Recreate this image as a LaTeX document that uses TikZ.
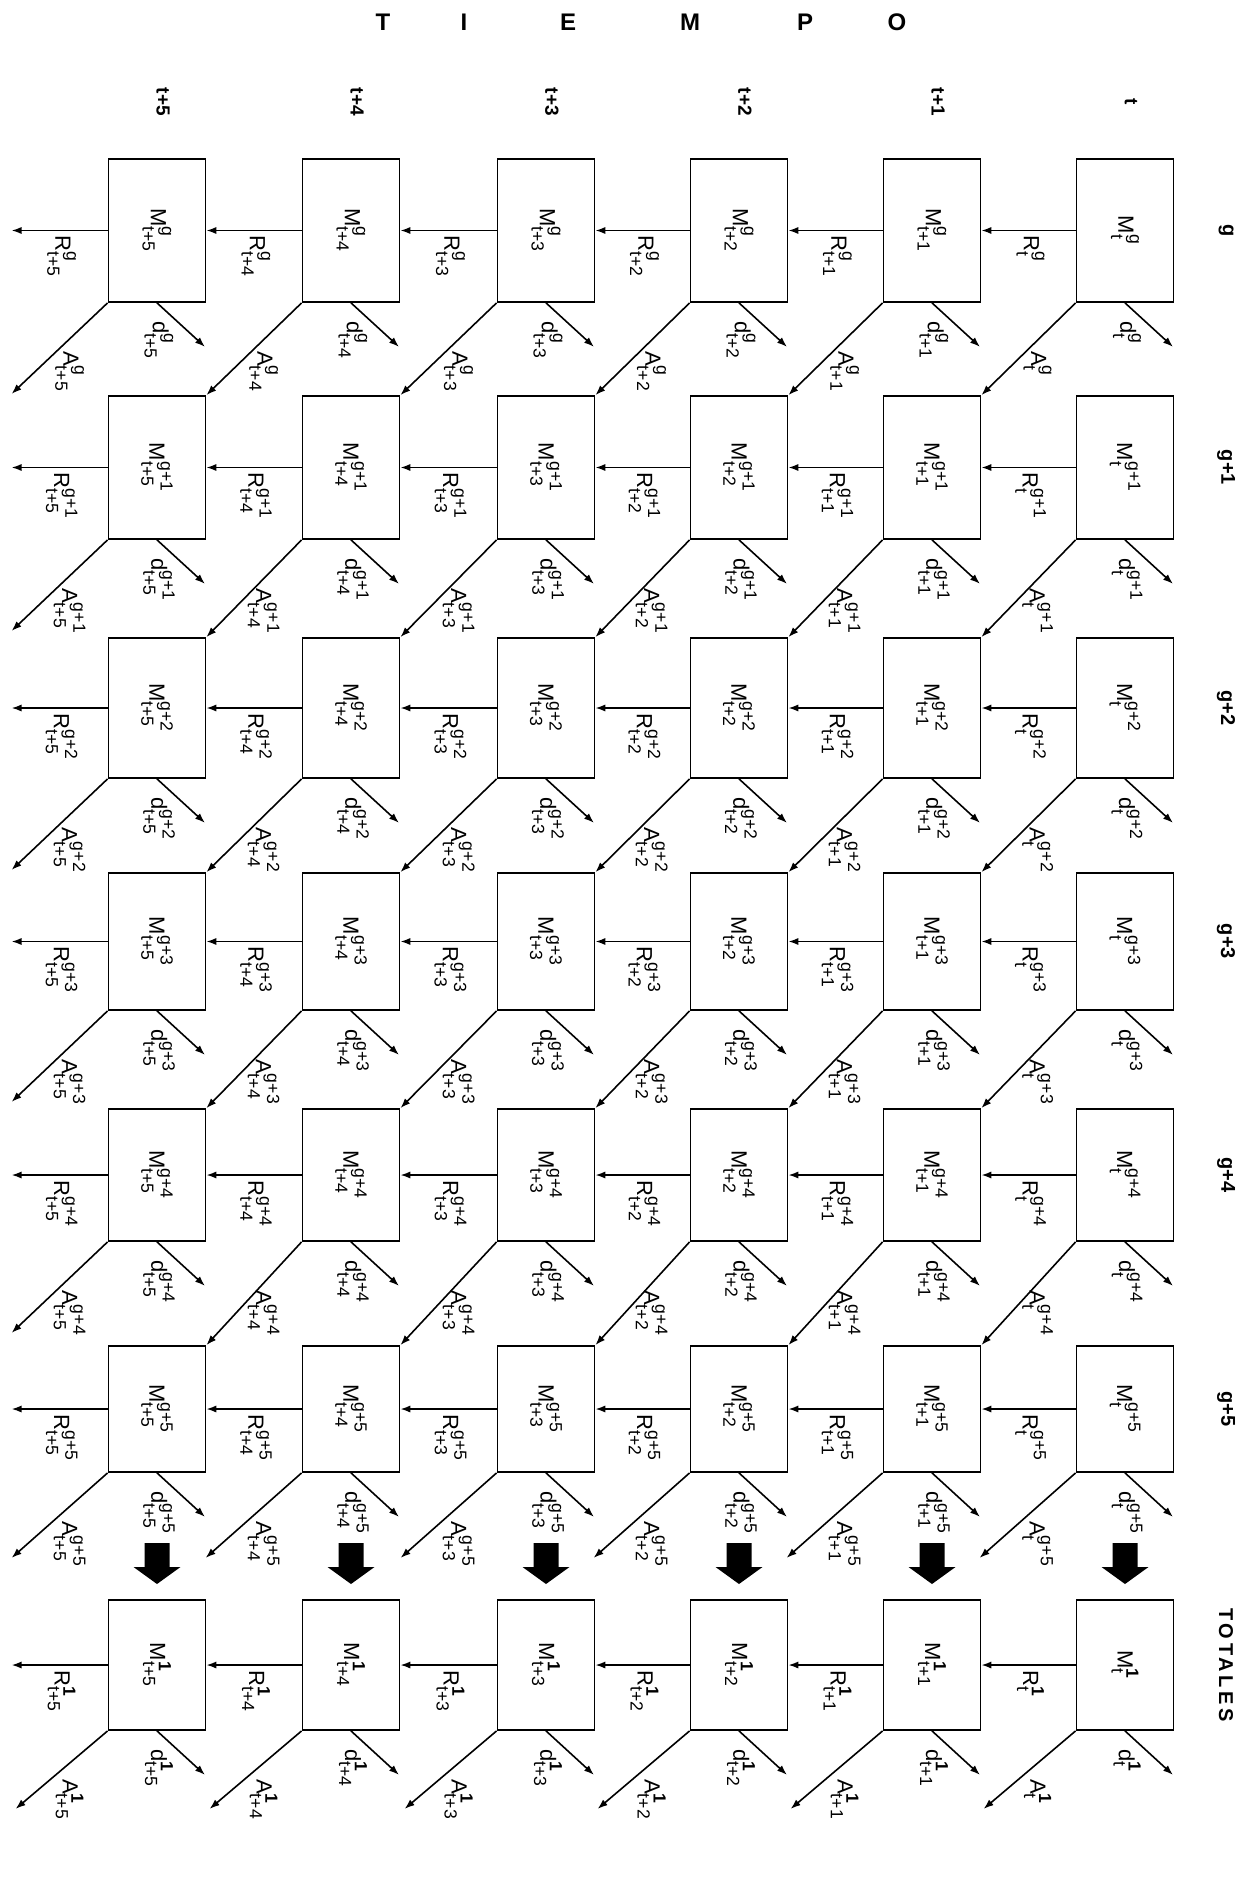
\documentclass[tikz,border=0pt]{standalone}
\usepackage{amsmath}
\usepackage{graphicx}
\usepackage{fontspec}
\setmainfont{Liberation Sans}
\usetikzlibrary{arrows.meta,calc}
\newcommand{\sct}[1]{\text{\fontsize{8.8}{10}\selectfont #1}}
\newcommand{\lab}[3]{{\fontsize{11}{13}\selectfont$\text{#1}^{\sct{#2}}_{\sct{#3}}$}}
\newcommand{\supof}[1]{\ifcase#1 g\or g+1\or g+2\or g+3\or g+4\or g+5\or \textbf{1}\fi}
\newcommand{\subof}[1]{\ifnum#1=0 t\else t+#1\fi}
\tikzset{
  boxn/.style={draw, line width=0.9pt, inner sep=0pt, minimum width=48.5pt},
  arr/.style={line width=0.8pt, -{Latex[length=5pt,width=3.6pt]}},
  rl/.style={rotate=-90, anchor=west, inner sep=1pt},
  hdr/.style={font=\bfseries\fontsize{9.5}{11}\selectfont, rotate=-90, inner sep=0pt},
  tit/.style={font=\bfseries\fontsize{12}{13}\selectfont, inner sep=0pt},
  bigarrow/.style={fill=black}
}
\begin{document}
\begin{tikzpicture}[x=0.5pt,y=-0.5pt]
\useasboundingbox (0,0) rectangle (1244,1877);
\def\xs{{1125,932,739,546,351,157}}
\def\ys{{230.5,467.5,708,941.5,1175,1409,1665}}
\def\hs{{143,143,140,137,132,126,130}}
% title
\foreach \l/\x in {T/383,I/464,E/568,M/690,P/805,O/897}
  \node[tit] (tm-\l) at (\x,22) {\l};
% column labels
\foreach \c/\t in {0/t,1/t+1,2/t+2,3/t+3,4/t+4,5/t+5}{
  \pgfmathsetmacro\cx{\xs[\c]}
  \node[hdr] (col-\c) at (\cx+6,102) {\t};
}
% row labels
\foreach \r/\t in {0/g,1/g+1,2/g+2,3/g+3,4/g+4,5/g+5}{
  \pgfmathsetmacro\cy{\ys[\r]}
  \node[hdr, font=\bfseries\fontsize{10}{12}\selectfont] (row-\r) at (1226,\cy) {\t};
}
\pgfmathsetmacro\cy{\ys[6]}
\node[hdr, font=\bfseries\fontsize{10}{12}\selectfont\addfontfeature{LetterSpace=18}] (row-6) at (1226,\cy) {TOTALES};
% boxes
\foreach \c in {0,...,5}{
  \foreach \r in {0,...,6}{
    \pgfmathsetmacro\cx{\xs[\c]}
    \pgfmathsetmacro\cy{\ys[\r]}
    \pgfmathsetmacro\hh{\hs[\r]/2}
    \node[boxn, minimum height=\hh pt] (b-\c-\r) at (\cx,\cy)
      {\rotatebox{-90}{\lab{M}{\supof{\r}}{\subof{\c}}}};
  }
}
% connectors
\foreach \c in {0,...,5}{
  \foreach \r in {0,...,6}{
    \pgfmathtruncatemacro\cc{\c+1}
    \pgfmathtruncatemacro\rr{\r+1}
    % R flow
    \ifnum\c<5
      \edef\rt{b-\cc-\r.east}
    \else
      \coordinate (re-\r) at ($(b-\c-\r.west)+(-96,0)$);
      \edef\rt{re-\r}
    \fi
    \draw[arr] (b-\c-\r.west) -- (\rt);
    \node[rl] (rlab-\c-\r) at ($(b-\c-\r.west)!0.5!(\rt)+(2,3)$) {\lab{R}{\supof{\r}}{\subof{\c}}};
    % d flow
    \coordinate (de-\c-\r) at ($(b-\c-\r.south)+(48,44)$);
    \draw[arr] (b-\c-\r.south) -- (de-\c-\r);
    \node[rl] (dlab-\c-\r) at ($(b-\c-\r.south)+(2,16)$) {\lab{d}{\supof{\r}}{\subof{\c}}};
    % A flow
    \def\adx{-96}\def\ady{91}
    \ifnum\r=5 \def\ady{85}\fi
    \ifnum\r=6 \def\adx{-92}\def\ady{78}\fi
    \pgfmathtruncatemacro\conn{and(\c<5,\r<5)}
    \ifnum\conn=1
      \edef\at{b-\cc-\rr.north east}
    \else
      \coordinate (ae-\c-\r) at ($(b-\c-\r.south west)+(\adx,\ady)$);
      \edef\at{ae-\c-\r}
    \fi
    \draw[arr] (b-\c-\r.south west) -- (\at);
    \node[rl] (alab-\c-\r) at ($(b-\c-\r.south west)+(-38,46)$) {\lab{A}{\supof{\r}}{\subof{\c}}};
  }
}
% thick arrows to totals
\foreach \c in {0,...,5}{
  \pgfmathsetmacro\cx{\xs[\c]}
  \coordinate (fa-\c) at (\cx,1543);
  \fill[bigarrow] ($(fa-\c)+(-12.5,0)$) -- ++(25,0) -- ++(0,24) -- ++(11,0)
     -- ++(-23.5,17) -- ++(-23.5,-17) -- ++(11,0) -- cycle;
}
\end{tikzpicture}
\end{document}
